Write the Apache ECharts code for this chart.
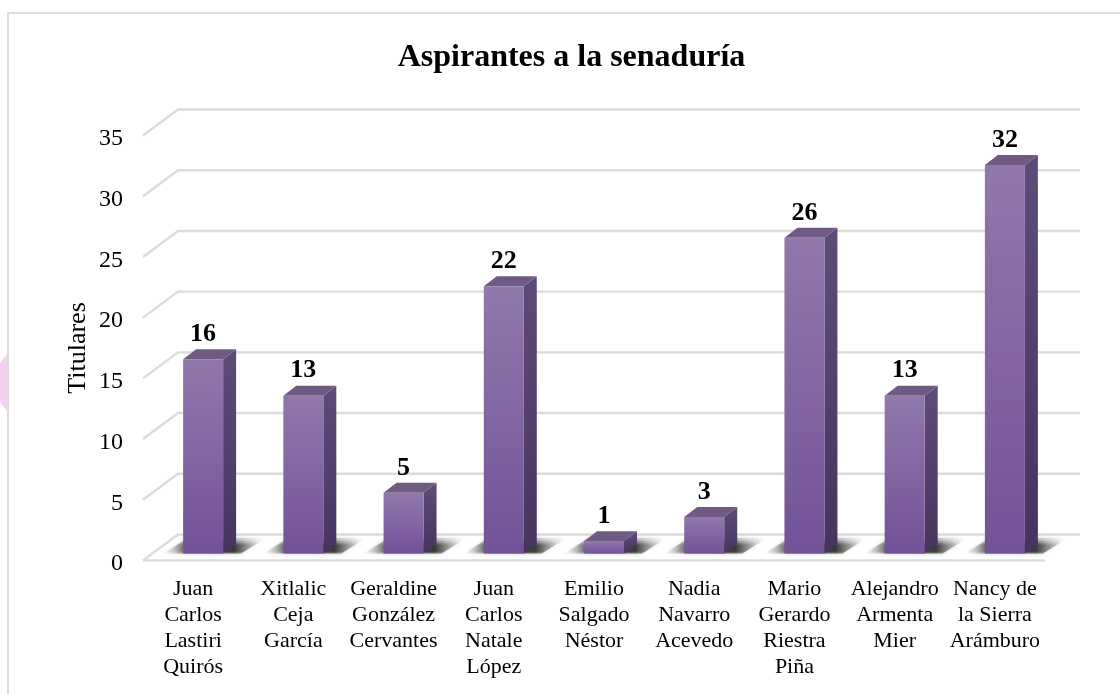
<!DOCTYPE html>
<html>
<head>
<meta charset="utf-8">
<style>
  html, body { margin: 0; padding: 0; background: #fff; }
  #chart { width: 1120px; height: 694px; }
</style>
<script src="https://cdn.jsdelivr.net/npm/echarts@6/dist/echarts.min.js"></script>
</head>
<body>
<div id="chart"></div>
<script>
const titleText = 'Aspirantes a la senaduría';
const axisName = 'Titulares';
const categories = [
  'Juan\nCarlos\nLastiri\nQuirós',
  'Xitlalic\nCeja\nGarcía',
  'Geraldine\nGonzález\nCervantes',
  'Juan\nCarlos\nNatale\nLópez',
  'Emilio\nSalgado\nNéstor',
  'Nadia\nNavarro\nAcevedo',
  'Mario\nGerardo\nRiestra\nPiña',
  'Alejandro\nArmenta\nMier',
  'Nancy de\nla Sierra\nArámburo'
];
const values = [16, 13, 5, 22, 1, 3, 26, 13, 32];
const gridTicks = [0, 5, 10, 15, 20, 25, 30, 35];

const serif = '"Liberation Serif", "Times New Roman", serif';
// depth of the fake 3d wall
const wallDx = 35, wallDy = -26;
// bars stand a bit behind the front edge of the floor, and have their own depth
const barDx = 10, barDy = -7;
const depthDx = 13, depthDy = -10;
const barWidth = 40;

function poly(points, fill) {
  return { type: 'polygon', shape: { points: points }, style: { fill: fill } };
}

function vGrad(top, bottom) {
  return new echarts.graphic.LinearGradient(0, 0, 0, 1, [
    { offset: 0, color: top },
    { offset: 1, color: bottom }
  ]);
}

// wall + floor lines, one per tick
function renderGridLine(params, api) {
  const p = api.coord([0, api.value(0)]);
  const cs = params.coordSys;
  const left = cs.x, right = cs.x + cs.width;
  const y = p[1];
  const style = { stroke: '#dcdcdc', lineWidth: 2.4, fill: null };
  const children = [{
    type: 'polyline',
    shape: { points: [[left, y], [left + wallDx, y + wallDy], [right + wallDx, y + wallDy]] },
    style: style
  }];
  if (api.value(0) === 0) {
    children.push({ type: 'line', shape: { x1: left, y1: y, x2: right, y2: y }, style: style });
  }
  return { type: 'group', children: children };
}

// soft floor shadow under a bar
function renderShadow(params, api) {
  const p = api.coord([api.value(0), 0]);
  const x = p[0] + barDx - barWidth / 2;
  const y = p[1] + barDy;
  const points = [[x - 20, y], [x + 58, y], [x + 82, y - 15], [x + 4, y - 15]];
  const dark = new echarts.graphic.LinearGradient(0, 0, 1, 0, [
    { offset: 0, color: 'rgba(130,130,130,0)' },
    { offset: 0.11, color: 'rgba(110,110,110,0.35)' },
    { offset: 0.24, color: 'rgba(55,55,55,0.9)' },
    { offset: 0.7, color: 'rgba(50,50,50,0.95)' },
    { offset: 0.86, color: 'rgba(110,110,110,0.5)' },
    { offset: 1, color: 'rgba(150,150,150,0)' }
  ]);
  // white veil so the top and bottom edges fade out
  const veil = new echarts.graphic.LinearGradient(0, 0, 0, 1, [
    { offset: 0, color: 'rgba(255,255,255,0.75)' },
    { offset: 0.45, color: 'rgba(255,255,255,0)' },
    { offset: 0.85, color: 'rgba(255,255,255,0)' },
    { offset: 1, color: 'rgba(255,255,255,0.3)' }
  ]);
  return {
    type: 'group',
    children: [
      { type: 'polygon', shape: { points: points }, style: { fill: dark, shadowBlur: 4, shadowColor: 'rgba(120,120,120,0.4)' } },
      poly(points, veil)
    ]
  };
}

function renderBar(params, api) {
  const v = api.value(1);
  const base = api.coord([api.value(0), 0]);
  const top = api.coord([api.value(0), v]);
  const x0 = base[0] + barDx - barWidth / 2, x1 = x0 + barWidth;
  const yb = base[1] + barDy, yt = top[1] + barDy;
  return {
    type: 'group',
    children: [
      poly([[x1, yb], [x1 + depthDx, yb + depthDy], [x1 + depthDx, yt + depthDy], [x1, yt]],
        vGrad('#5e4c78', '#48335f')),
      poly([[x0, yt], [x0 + depthDx, yt + depthDy], [x1 + depthDx, yt + depthDy], [x1, yt]], '#6f5a84'),
      poly([[x0, yb], [x1, yb], [x1, yt], [x0, yt]], vGrad('#9078ab', '#735298')),
      {
        type: 'text',
        style: {
          x: x0 + barWidth / 2, y: yt + depthDy - 15,
          text: String(v), fill: '#000', align: 'center', verticalAlign: 'middle',
          font: 'bold 26px ' + serif
        }
      }
    ]
  };
}

const chart = echarts.init(document.getElementById('chart'), null, { renderer: 'canvas' });
chart.setOption({
  animation: false,
  backgroundColor: '#fff',
  title: {
    text: titleText, left: 566.5, top: 37, textAlign: 'center',
    textStyle: { fontFamily: serif, fontWeight: 'bold', fontSize: 32, color: '#000' }
  },
  graphic: [
    // pale pink shape peeking out left of the frame
    { type: 'polygon', z: -1, shape: { points: [[0, 363], [8, 353], [8, 412], [0, 402]] }, style: { fill: '#f6d0f0' } },
    // chart frame, open on the right
    { type: 'polyline', z: 0, shape: { points: [[8, 694], [8, 13], [1120, 13]] },
      style: { stroke: '#dcdcdc', lineWidth: 2, fill: null } }
  ],
  grid: { left: 143, right: 75, top: 135.5, bottom: 133.5 },
  xAxis: {
    type: 'category', data: categories,
    axisLine: { show: false }, axisTick: { show: false },
    axisLabel: {
      interval: 0, margin: 16, color: '#000', fontFamily: serif, fontSize: 22, lineHeight: 26,
      verticalAlign: 'top', align: 'center'
    }
  },
  yAxis: {
    type: 'value', min: 0, max: 35, interval: 5,
    name: axisName, nameLocation: 'middle', nameGap: 52, nameMoveOverlap: false,
    nameTextStyle: { fontFamily: serif, fontSize: 26, color: '#000' },
    axisLine: { show: false }, axisTick: { show: false }, splitLine: { show: false },
    // top + small lineHeight pushes the digits down onto the front end of each grid line
    axisLabel: { margin: 20, color: '#000', fontFamily: serif, fontSize: 24, verticalAlign: 'top', lineHeight: 7 }
  },
  series: [
    { type: 'custom', z: 1, silent: true, clip: false, renderItem: renderGridLine,
      encode: { y: 0 }, data: gridTicks.map(t => [t]) },
    { type: 'custom', z: 2, silent: true, clip: false, renderItem: renderShadow,
      encode: { x: 0, y: 1 }, data: values.map((v, i) => [i, v]) },
    { type: 'custom', z: 3, silent: true, clip: false, renderItem: renderBar,
      encode: { x: 0, y: 1 }, data: values.map((v, i) => [i, v]) }
  ]
});
</script>
</body>
</html>
